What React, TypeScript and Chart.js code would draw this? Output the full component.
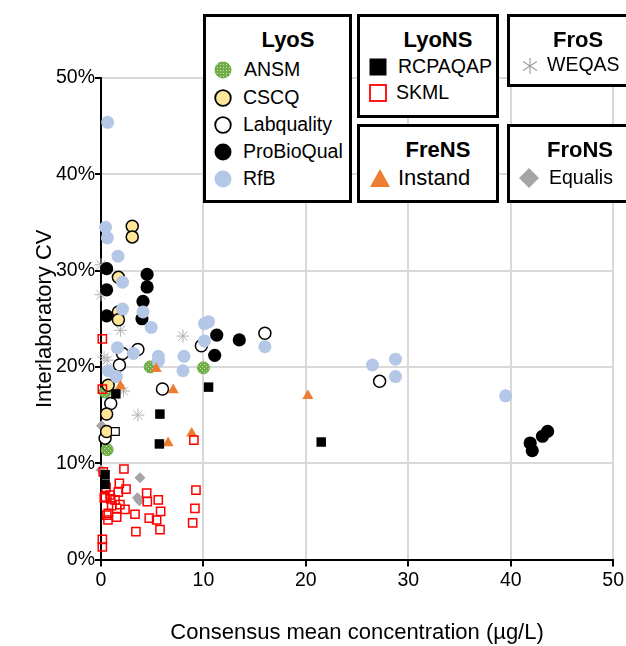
import React, { useEffect, useRef } from "react";
import { Chart, registerables } from "chart.js";

Chart.register(...registerables);

const FONT = "'Liberation Sans', Arial, sans-serif";

// Axis ticks
const xTicks = [0, 10, 20, 30, 40, 50];
const yTicks = [0, 10, 20, 30, 40, 50]; // percent

// Series values: [consensus mean (µg/L), interlaboratory CV (%)]
const ansm: [number, number][] = [[4.8, 20.0], [10.0, 19.9], [0.4, 17.4], [0.6, 11.4]];
const cscq: [number, number][] = [[3.05, 34.6], [3.05, 33.5], [1.7, 29.3], [1.7, 25.7], [1.7, 24.9], [0.7, 18.1], [0.55, 15.1], [0.55, 13.3]];
const labquality: [number, number][] = [[3.6, 21.8], [2.1, 21.4], [1.8, 20.2], [9.8, 22.2], [16.0, 23.5], [6.0, 17.7], [0.95, 16.2], [0.4, 12.6], [27.2, 18.5]];
const proBioQual: [number, number][] = [[0.55, 30.2], [0.55, 28.0], [0.55, 25.3], [4.5, 29.6], [4.5, 28.3], [4.1, 26.8], [4.0, 25.0], [11.3, 23.3], [13.5, 22.8], [11.1, 21.2], [41.9, 12.1], [42.1, 11.3], [43.1, 12.8], [43.6, 13.3]];
const rfb: [number, number][] = [[0.65, 45.4], [0.45, 34.5], [0.62, 33.4], [1.66, 31.5], [2.1, 28.8], [4.1, 25.7], [4.9, 24.1], [2.1, 26.0], [10.1, 24.5], [10.5, 24.7], [10.1, 22.7], [16.0, 22.1], [3.15, 21.4], [1.6, 22.0], [5.6, 21.1], [5.6, 20.6], [8.1, 21.1], [8.0, 19.6], [0.7, 19.6], [1.5, 19.0], [26.5, 20.2], [28.75, 20.8], [28.75, 19.0], [39.5, 17.0]];
const rcpaqap: [number, number][] = [[1.45, 17.2], [5.75, 15.1], [10.5, 17.9], [5.7, 12.0], [21.5, 12.2], [0.4, 8.8], [0.4, 7.8]];
const rcpaqapOpen: [number, number][] = [[1.4, 13.3]];
const skml: [number, number][] = [[0.13, 22.9], [0.13, 17.7], [9.07, 12.4], [0.22, 9.1], [2.24, 9.4], [1.79, 7.9], [2.44, 7.3], [0.49, 7.5], [0.39, 6.5], [0.88, 6.7], [1.69, 7.0], [1.37, 6.2], [1.04, 5.6], [2.34, 5.2], [0.71, 4.8], [1.53, 4.4], [3.32, 4.7], [4.46, 6.9], [4.52, 6.0], [5.59, 6.2], [5.82, 5.0], [4.71, 4.3], [5.43, 4.1], [5.76, 3.1], [3.41, 2.9], [9.27, 7.2], [9.17, 5.3], [8.95, 3.8], [0.13, 2.1], [0.13, 1.3], [0.56, 4.6], [0.95, 6.3], [1.53, 5.3], [0.32, 6.4], [0.68, 4.1], [1.85, 5.7]];
const weqas: [number, number][] = [[0.0, 30.6], [0.0, 27.5], [1.9, 23.8], [8.0, 23.2], [0.3, 21.0], [0.6, 20.7], [3.6, 15.0], [2.2, 17.5]];
const instand: [number, number][] = [[5.4, 19.8], [1.9, 18.0], [7.05, 17.6], [20.2, 17.0], [8.85, 13.1], [6.55, 12.1]];
const equalis: [number, number][] = [[0.05, 13.9], [3.8, 8.5], [3.55, 6.4], [3.75, 6.1], [0.0, 9.3]];

const toPts = (a: [number, number][]) => a.map(([x, y]) => ({ x, y }));

const Box = ({ left, top, width, height }: any) => (
  <div
    style={{
      position: "absolute",
      left,
      top,
      width,
      height,
      border: "3px solid #000",
      boxSizing: "border-box",
      background: "#fff",
    }}
  />
);

const T = ({ x, y, size, bold, center, children }: any) => (
  <div
    style={{
      position: "absolute",
      left: x,
      top: y,
      transform: center ? "translate(-50%,-50%)" : "translate(0,-50%)",
      fontSize: size,
      fontWeight: bold ? 700 : 400,
      lineHeight: 1,
      whiteSpace: "nowrap",
      fontFamily: FONT,
      color: "#000",
    }}
  >
    {children}
  </div>
);

const M = ({ x, y, size, children }: any) => (
  <svg
    style={{ position: "absolute", left: x - size / 2, top: y - size / 2 }}
    width={size}
    height={size}
    viewBox={`0 0 ${size} ${size}`}
  >
    {children}
  </svg>
);

export default function App() {
  const ref = useRef<HTMLCanvasElement>(null);

  useEffect(() => {
    const canvas = ref.current!;
    const pc = document.createElement("canvas");
    pc.width = 4;
    pc.height = 4;
    const pctx = pc.getContext("2d")!;
    pctx.fillStyle = "#70AD47";
    pctx.fillRect(0, 0, 4, 4);
    pctx.fillStyle = "#C5E0B4";
    pctx.fillRect(0, 0, 1, 1);
    pctx.fillRect(2, 2, 1, 1);
    const pattern = canvas.getContext("2d")!.createPattern(pc, "repeat")!;

    const ds = (label: string, data: [number, number][], style: any) => ({
      label,
      data: toPts(data),
      clip: false,
      ...style,
    });

    const datasets = [
      ds("RCPAQAP", rcpaqap, { pointStyle: "rect", pointRadius: 6.7, backgroundColor: "#000", borderColor: "#000", borderWidth: 0 }),
      ds("RCPAQAP*", rcpaqapOpen, { pointStyle: "rect", pointRadius: 5.5, backgroundColor: "#fff", borderColor: "#000", borderWidth: 1.2 }),
      ds("SKML", skml, { pointStyle: "rect", pointRadius: 5.8, backgroundColor: "rgba(255,255,255,0)", borderColor: "#FF0000", borderWidth: 1.5 }),
      ds("Instand", instand, { pointStyle: "triangle", pointRadius: 6.4, backgroundColor: "#ED7D31", borderColor: "#ED7D31", borderWidth: 0 }),
      ds("RfB", rfb, { pointStyle: "circle", pointRadius: 6.5, backgroundColor: "#B4C7E7", borderColor: "#B4C7E7", borderWidth: 0 }),
      ds("CSCQ", cscq, { pointStyle: "circle", pointRadius: 6, backgroundColor: "#FFE699", borderColor: "#000", borderWidth: 1.5 }),
      ds("Labquality", labquality, { pointStyle: "circle", pointRadius: 6, backgroundColor: "#fff", borderColor: "#000", borderWidth: 1.5 }),
      ds("ProBioQual", proBioQual, { pointStyle: "circle", pointRadius: 6.6, backgroundColor: "#000", borderColor: "#000", borderWidth: 0 }),
      ds("ANSM", ansm, { pointStyle: "circle", pointRadius: 6, backgroundColor: pattern, borderColor: "#70AD47", borderWidth: 1 }),
      ds("Equalis", equalis, { pointStyle: "rectRot", pointRadius: 5.5, backgroundColor: "#A5A5A5", borderColor: "#A5A5A5", borderWidth: 0 }),
      ds("WEQAS", weqas, { pointStyle: "star", pointRadius: 6.5, backgroundColor: "#BFBFBF", borderColor: "#B0B0B0", borderWidth: 1 }),
    ];

    const chart = new Chart(canvas, {
      type: "scatter",
      data: { datasets },
      options: {
        responsive: false,
        animation: false,
        layout: { padding: { top: 78, right: 12.5, left: 0, bottom: 0 } },
        plugins: { legend: { display: false }, tooltip: { enabled: false } },
        scales: {
          x: {
            type: "linear",
            min: xTicks[0],
            max: xTicks[xTicks.length - 1],
            afterFit: (s: any) => {
              s.height = 86.5;
            },
            ticks: {
              stepSize: xTicks[1] - xTicks[0],
              color: "#000",
              padding: 2,
              font: { family: FONT, size: 19.5 },
            },
            grid: { color: "#D9D9D9", lineWidth: 2, tickColor: "#000", tickLength: 7, tickWidth: 2 },
            border: { color: "#000", width: 2 },
            title: {
              display: true,
              text: "Consensus mean concentration (µg/L)",
              color: "#000",
              font: { family: FONT, size: 22 },
              padding: { top: 0, bottom: 0 },
            },
          },
          y: {
            type: "linear",
            min: yTicks[0],
            max: yTicks[yTicks.length - 1],
            afterFit: (s: any) => {
              s.width = 101;
            },
            ticks: {
              stepSize: yTicks[1] - yTicks[0],
              color: "#000",
              padding: 0,
              font: { family: FONT, size: 19.5 },
              callback: (v: any) => v + "%",
            },
            grid: { color: "#D9D9D9", lineWidth: 2, tickColor: "#000", tickLength: 6, tickWidth: 2 },
            border: { color: "#000", width: 2 },
            title: {
              display: true,
              text: "Interlaboratory CV",
              color: "#000",
              font: { family: FONT, size: 22 },
              padding: { top: 32, bottom: 0 },
            },
          },
        },
      } as any,
    });
    return () => chart.destroy();
  }, []);

  return (
    <div
      style={{
        position: "fixed",
        left: 0,
        top: 0,
        width: 626,
        height: 646,
        overflow: "hidden",
        background: "#fff",
      }}
    >
      <canvas ref={ref} width={626} height={646} style={{ position: "absolute", left: 0, top: 0, width: 626, height: 646 }} />

      {/* LyoS */}
      <Box left={203} top={14} width={149} height={189} />
      <T x={288} y={40} size={22} bold center>LyoS</T>
      <M x={223} y={70} size={18}>
        <defs>
          <pattern id="ansmPat" width="3" height="3" patternUnits="userSpaceOnUse">
            <rect width="3" height="3" fill="#70AD47" />
            <rect width="1" height="1" fill="#C5E0B4" />
          </pattern>
        </defs>
        <circle cx={9} cy={9} r={8.5} fill="url(#ansmPat)" />
      </M>
      <T x={244} y={70} size={19.5}>ANSM</T>
      <M x={223} y={98} size={18}>
        <circle cx={9} cy={9} r={7.8} fill="#FFE699" stroke="#000" strokeWidth={1.8} />
      </M>
      <T x={243} y={98} size={19.5}>CSCQ</T>
      <M x={223} y={125} size={18}>
        <circle cx={9} cy={9} r={7.8} fill="#fff" stroke="#000" strokeWidth={1.8} />
      </M>
      <T x={243} y={125} size={19.5}>Labquality</T>
      <M x={223} y={152} size={18}>
        <circle cx={9} cy={9} r={8.5} fill="#000" />
      </M>
      <T x={243} y={152} size={19.5}>ProBioQual</T>
      <M x={223} y={179} size={18}>
        <circle cx={9} cy={9} r={8.5} fill="#B4C7E7" />
      </M>
      <T x={243} y={179} size={19.5}>RfB</T>

      {/* LyoNS */}
      <Box left={357} top={14} width={142} height={104} />
      <T x={438} y={40} size={22} bold center>LyoNS</T>
      <M x={378} y={67} size={18}>
        <rect x={0.5} y={0.5} width={17} height={17} fill="#000" />
      </M>
      <T x={398} y={67} size={19.5}>RCPAQAP</T>
      <M x={378} y={93} size={18}>
        <rect x={1} y={1} width={16} height={16} fill="#fff" stroke="#FF0000" strokeWidth={1.8} />
      </M>
      <T x={396} y={93} size={19.5}>SKML</T>

      {/* FroS */}
      <Box left={507} top={14} width={142} height={73} />
      <T x={578} y={40} size={22} bold center>FroS</T>
      <M x={530} y={66} size={18}>
        <g stroke="#A0A0A0" strokeWidth={1.2}>
          <line x1={9} y1={1} x2={9} y2={17} />
          <line x1={2} y1={4.5} x2={16} y2={13.5} />
          <line x1={2} y1={13.5} x2={16} y2={4.5} />
        </g>
      </M>
      <T x={547} y={65} size={19.5}>WEQAS</T>

      {/* FreNS */}
      <Box left={357} top={124} width={142} height={79} />
      <T x={438} y={150} size={22} bold center>FreNS</T>
      <M x={380} y={178} size={22}>
        <polygon points="11,2 21,20 1,20" fill="#ED7D31" />
      </M>
      <T x={398} y={178} size={22}>Instand</T>

      {/* FroNS */}
      <Box left={507} top={124} width={142} height={79} />
      <T x={580} y={150} size={22} bold center>FroNS</T>
      <M x={529} y={178} size={22}>
        <polygon points="11,1 21,11 11,21 1,11" fill="#A5A5A5" />
      </M>
      <T x={549} y={178} size={19.5}>Equalis</T>
    </div>
  );
}
